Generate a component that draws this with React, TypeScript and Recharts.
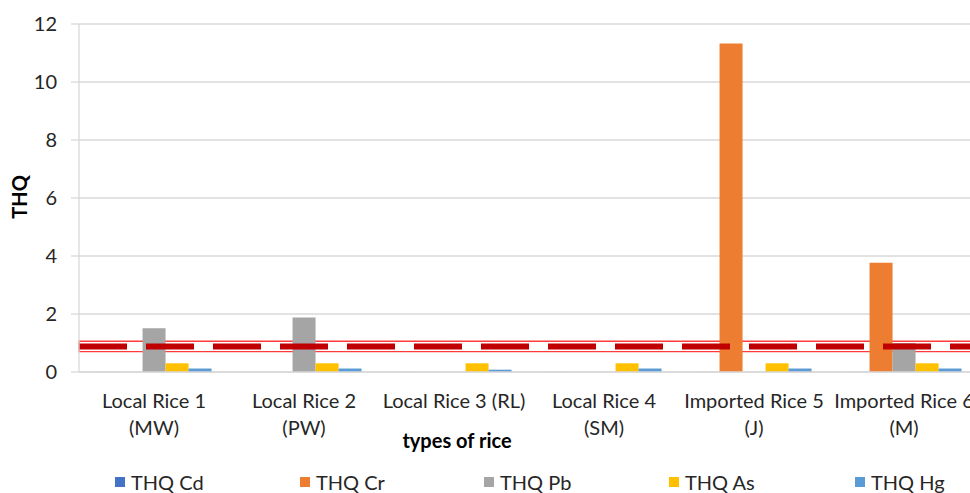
import React from "react";
import {
  BarChart,
  Bar,
  XAxis,
  YAxis,
  CartesianGrid,
  Legend,
  ReferenceLine,
  ReferenceArea,
  Label,
} from "recharts";

// categories (line break = second tick line)
const riceTypes = [
  "Local Rice 1\n(MW)",
  "Local Rice 2\n(PW)",
  "Local Rice 3 (RL)",
  "Local Rice 4\n(SM)",
  "Imported Rice 5\n(J)",
  "Imported Rice 6\n(M)",
];

// THQ values per metal
const thqCd = [0.003, 0.003, 0.002, 0.003, 0.003, 0.003];
const thqCr = [0, 0, 0, 0, 11.33, 3.77];
const thqPb = [1.51, 1.88, 0, 0, 0, 1.0];
const thqAs = [0.3, 0.3, 0.3, 0.3, 0.3, 0.3];
const thqHg = [0.12, 0.12, 0.08, 0.12, 0.12, 0.12];

const yTicks = [0, 2, 4, 6, 8, 10, 12];
const limitValue = 0.88; // THQ = 1 guideline (red dashes)

const series = [
  { key: "cd", name: "THQ Cd", color: "#4472C4" },
  { key: "cr", name: "THQ Cr", color: "#ED7D31" },
  { key: "pb", name: "THQ Pb", color: "#A5A5A5" },
  { key: "as", name: "THQ As", color: "#FFC000" },
  { key: "hg", name: "THQ Hg", color: "#5B9BD5" },
];

const data = riceTypes.map((name, i) => ({
  name,
  cd: thqCd[i],
  cr: thqCr[i],
  pb: thqPb[i],
  as: thqAs[i],
  hg: thqHg[i],
}));

const FONT = "Lato, 'Open Sans', sans-serif";
const TEXT = "#262626";

const CatTick = (props: any) => {
  const { x, y, payload } = props;
  const lines = String(payload.value).split("\n");
  return (
    <text x={x} y={y} textAnchor="middle" fill={TEXT} fontSize={20} fontFamily={FONT}>
      {lines.map((l, i) => (
        <tspan key={i} x={x} dy={i === 0 ? 28 : 27}>
          {l}
        </tspan>
      ))}
    </text>
  );
};

const legendLeft = [115, 300, 484, 669, 855];

const LegendBox = () => (
  <div style={{ position: "relative", height: 30, width: 1000 }}>
    {series.map((s, i) => (
      <div
        key={s.key}
        style={{
          position: "absolute",
          left: legendLeft[i],
          top: 8,
          display: "flex",
          alignItems: "center",
          fontFamily: FONT,
          fontSize: 20,
          color: TEXT,
          lineHeight: "22px",
          whiteSpace: "nowrap",
        }}
      >
        <span style={{ width: 10, height: 10, background: s.color, marginRight: 6, display: "inline-block" }} />
        {s.name}
      </div>
    ))}
  </div>
);

export default function App() {
  return (
    <div
      style={{
        position: "fixed",
        left: 0,
        top: 0,
        width: 970,
        height: 493,
        overflow: "hidden",
        background: "#fff",
      }}
    >
      <BarChart
        width={1000}
        height={493}
        data={data}
        margin={{ top: 24, right: 21, left: 0, bottom: 0 }}
        barCategoryGap="11.7%"
        barGap={0}
      >
        <CartesianGrid vertical={false} stroke="#d9d9d9" strokeWidth={1.3} />
        <XAxis
          dataKey="name"
          height={91}
          interval={0}
          tickLine={false}
          axisLine={{ stroke: "#d9d9d9", strokeWidth: 1.3 }}
          tick={<CatTick />}
        >
          <Label
            content={() => (
              <text x={457} y={448} textAnchor="middle" fill="#000" fontSize={20} fontWeight="bold" fontFamily={FONT}>
                types of rice
              </text>
            )}
          />
        </XAxis>
        <YAxis
          width={79}
          domain={[0, 12]}
          ticks={yTicks}
          interval={0}
          tickSize={8}
          tickMargin={14}
          tickLine={{ stroke: "#d9d9d9", strokeWidth: 1.3 }}
          axisLine={{ stroke: "#d9d9d9", strokeWidth: 1.3 }}
          tick={{ fill: TEXT, fontSize: 20, fontFamily: FONT }}
        >
          <Label
            content={() => (
              <text
                x={19}
                y={197}
                textAnchor="middle"
                dominantBaseline="central"
                transform="rotate(-90 19 197)"
                fill="#000"
                fontSize={20}
                fontWeight="bold"
                fontFamily={FONT}
              >
                THQ
              </text>
            )}
          />
        </YAxis>
        <Legend
          verticalAlign="bottom"
          align="left"
          height={30}
          wrapperStyle={{ left: 0, bottom: 0, width: 1000 }}
          content={() => <LegendBox />}
        />
        {series.map((s) => (
          <Bar key={s.key} dataKey={s.key} name={s.name} fill={s.color} isAnimationActive={false} />
        ))}
        <ReferenceArea
          y1={0.7}
          y2={1.06}
          fill="#fff"
          fillOpacity={0}
          stroke="#ff3b3b"
          strokeWidth={1.3}
          ifOverflow="visible"
        />
        <ReferenceLine
          y={limitValue}
          stroke="#C00000"
          strokeWidth={6}
          strokeDasharray="48 19"
        />
      </BarChart>
    </div>
  );
}
